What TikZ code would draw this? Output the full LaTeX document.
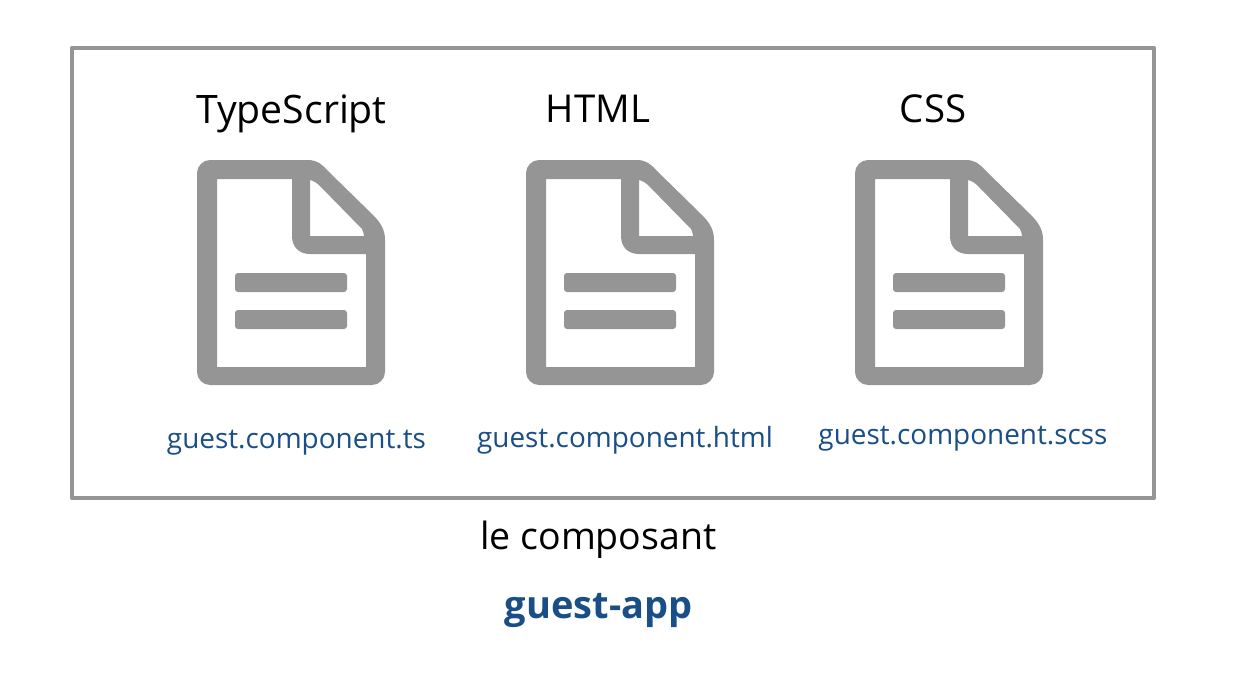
\documentclass[tikz,border=0pt]{standalone}
\usepackage{fontspec}
\setmainfont{Open Sans}
\definecolor{icongray}{HTML}{959595}
\definecolor{fileblue}{HTML}{1A4E86}
\tikzset{
  x=1pt,y=-1pt,
  frame/.style={draw=icongray,line width=4.5pt,line join=round,fill=white,minimum width=1082pt,minimum height=450pt,inner sep=0pt,outer sep=0pt,anchor=north west},
  heading/.style={text=black,font=\fontsize{38.4}{44}\selectfont,inner sep=0pt,anchor=base},
  longheading/.style={text=black,font=\fontsize{39.2}{44}\selectfont,inner sep=0pt,anchor=base},
  filename/.style={text=fileblue,font=\fontsize{27.9}{34}\selectfont,inner sep=0pt,anchor=base},
  caption/.style={text=black,font=\fontsize{37.5}{44}\selectfont,inner sep=0pt,anchor=base},
  appname/.style={text=fileblue,font=\fontsize{38}{44}\selectfont\bfseries,inner sep=0pt,anchor=base},
  fileicon/.pic={
    \fill[icongray,even odd rule]
      (0,13) .. controls (0,6) and (6,0) .. (13,0) -- (111,0)
      .. controls (120,0) and (126,5) .. (131,11)
      -- (176,55) .. controls (184,63) and (188,70) .. (188,80)
      -- (188,212) .. controls (188,219) and (182,225) .. (175,225) -- (13,225)
      .. controls (6,225) and (0,219) .. (0,212) -- cycle
      (20,19) -- (95,19) -- (95,76) .. controls (95,87) and (102,94) .. (113,94)
      -- (169,94) -- (169,207) -- (20,207) -- cycle
      (113,20) .. controls (117,21) and (120,23) .. (123,26)
      -- (165,69) .. controls (166,71) and (167,74) .. (167,76)
      -- (113,76) -- cycle;
    \fill[icongray,rounded corners=3pt] (38,113) rectangle (150,132);
    \fill[icongray,rounded corners=3pt] (38,150) rectangle (150,169);
  }
}
\begin{document}
\begin{tikzpicture}
\useasboundingbox (0,0) rectangle (1246,674);
\node[frame] (box) at (72,48) {};
\pic at (197,160) {fileicon};
\pic at (526,160) {fileicon};
\pic at (855,160) {fileicon};
\node[longheading] (ts) at (291.5,123) {TypeScript};
\node[heading] (html) at (598,122) {HTML};
\node[heading] (css) at (933,122) {CSS};
\node[filename] (tsf) at (296.5,448) {guest.component.ts};
\node[filename] (htmlf) at (625,447) {guest.component.html};
\node[filename] (cssf) at (963,444) {guest.component.scss};
\node[caption] (cap) at (598.5,549) {le composant};
\node[appname] (app) at (598.5,618) {guest-app};
\end{tikzpicture}
\end{document}
